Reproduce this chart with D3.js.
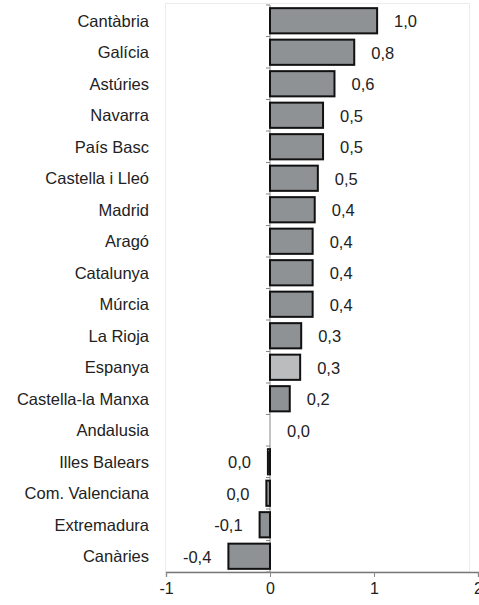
<!DOCTYPE html>
<html>
<head>
<meta charset="utf-8">
<script src="https://cdn.jsdelivr.net/npm/d3@7"></script>
<style>
  html, body { margin: 0; padding: 0; background: #fff; }
  svg { display: block; }
  text { font-family: Arial, "Liberation Sans", sans-serif; fill: #222; }
</style>
</head>
<body>
<script>
// Regions, top to bottom
const regions = [
  "Cantàbria", "Galícia", "Astúries", "Navarra", "País Basc",
  "Castella i Lleó", "Madrid", "Aragó", "Catalunya", "Múrcia",
  "La Rioja", "Espanya", "Castella-la Manxa", "Andalusia",
  "Illes Balears", "Com. Valenciana", "Extremadura", "Canàries"
];
const values = [
  1.03, 0.81, 0.62, 0.51, 0.51,
  0.46, 0.43, 0.41, 0.41, 0.41,
  0.30, 0.29, 0.19, 0.0,
  -0.02, -0.035, -0.10, -0.40
];
const highlighted = ["Espanya"];
const xTicks = [-1, 0, 1, 2];

const W = 479, H = 605;
const plot = { left: 166, right: 478, top: 5, bottom: 572 };

const fmt = d3.formatLocale({ decimal: ",", thousands: ".", grouping: [3], currency: ["", "€"], minus: "-" }).format(".1f");
const tickFmt = d3.formatLocale({ decimal: ",", thousands: ".", grouping: [3], currency: ["", "€"], minus: "-" }).format("d");

const data = regions.map((r, i) => ({ region: r, value: values[i] }));

const svg = d3.select("body").append("svg").attr("width", W).attr("height", H);

const x = d3.scaleLinear().domain([-1, 2]).range([plot.left, plot.right]);
const y = d3.scaleBand().domain(regions).range([plot.top, plot.bottom])
  .paddingInner(0.2).paddingOuter(0.1);

// Plot frame
svg.append("rect")
  .attr("x", plot.left - 0.5).attr("y", plot.top - 1.5)
  .attr("width", 470 - plot.left).attr("height", plot.bottom - plot.top + 1.5)
  .attr("fill", "none").attr("stroke", "#ececec").attr("stroke-width", 1);

// Value axis along the bottom
const xAxis = svg.append("g")
  .attr("transform", `translate(0,${plot.bottom})`)
  .call(d3.axisBottom(x).tickValues(xTicks).tickFormat(tickFmt).tickSize(5).tickPadding(6));
xAxis.select(".domain").attr("stroke", "#777").attr("stroke-width", 1.3);
xAxis.selectAll(".tick line").attr("stroke", "#888");
xAxis.selectAll(".tick text").attr("font-size", 16).attr("fill", "#222")
  .style("font-family", "Arial, 'Liberation Sans', sans-serif");

// Category axis at zero
const yAxis = svg.append("g")
  .attr("transform", `translate(${x(0)},0)`);
yAxis.append("line")
  .attr("y1", plot.top).attr("y2", plot.bottom)
  .attr("stroke", "#888").attr("stroke-width", 1);
const bounds = d3.range(regions.length + 1).map(i => plot.top + i * y.step());
yAxis.selectAll("line.bt").data(bounds).join("line")
  .attr("class", "bt")
  .attr("x1", -4).attr("x2", 0)
  .attr("y1", d => d).attr("y2", d => d)
  .attr("stroke", "#888");

// Category labels
svg.append("g").selectAll("text").data(data).join("text")
  .attr("x", 149)
  .attr("y", d => y(d.region) + y.bandwidth() / 2)
  .attr("dy", "0.36em")
  .attr("text-anchor", "end")
  .attr("font-size", 16.5)
  .text(d => d.region);

// Bars
svg.append("g").selectAll("rect").data(data.filter(d => d.value !== 0)).join("rect")
  .attr("x", d => x(Math.min(0, d.value)))
  .attr("y", d => y(d.region))
  .attr("width", d => Math.abs(x(d.value) - x(0)))
  .attr("height", y.bandwidth())
  .attr("fill", d => highlighted.includes(d.region) ? "#bbbcbe" : "#8f9294")
  .attr("stroke", "#111")
  .attr("stroke-width", 2);

// Value labels
svg.append("g").selectAll("text").data(data).join("text")
  .attr("x", d => d.value < 0 ? x(d.value) - 17 : x(d.value) + 17)
  .attr("y", d => y(d.region) + y.bandwidth() / 2)
  .attr("dy", "0.4em")
  .attr("text-anchor", d => d.value < 0 ? "end" : "start")
  .attr("font-size", 16.5)
  .text(d => fmt(d.value));
</script>
</body>
</html>
